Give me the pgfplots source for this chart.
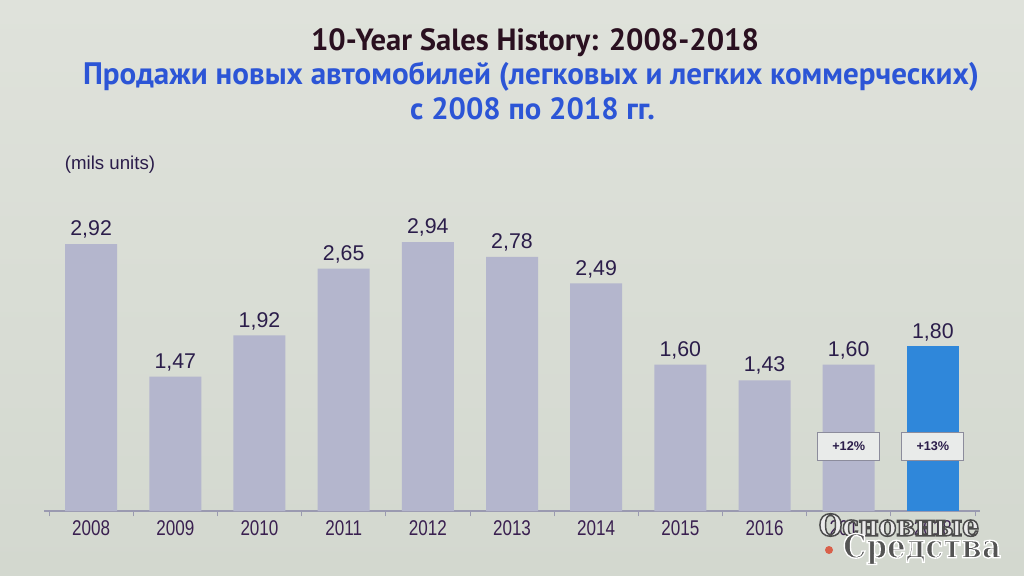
\documentclass[border=0pt]{standalone}
\usepackage{pgfplots}
\pgfplotsset{compat=1.18}
\usepackage{fontspec}
\setmainfont{Liberation Sans}
\newfontfamily\titlefont{PT Sans}
\newfontfamily\narrowfont[FakeStretch=0.8]{Liberation Sans}
\newfontfamily\logofont[FakeStretch=0.9]{DejaVu Serif}

\definecolor{bgtop}{HTML}{DFE2DB}
\definecolor{bgbot}{HTML}{D3D8CF}
\definecolor{titlecol}{HTML}{2A1020}
\definecolor{subcol}{HTML}{2C55D6}
\definecolor{barcol}{HTML}{B4B6CD}
\definecolor{barblue}{HTML}{2F87DA}
\definecolor{labcol}{HTML}{2B1D4A}
\definecolor{tickcol}{HTML}{3A2050}
\definecolor{axcol}{HTML}{9A9AB0}
\definecolor{boxdraw}{HTML}{8C8C9C}
\definecolor{boxfill}{HTML}{E9EBEA}
\definecolor{dotcol}{HTML}{D9604A}

% outlined text for the watermark
\newcommand\outlined[2]{\special{pdf:literal 2 Tr #1 w}#2\special{pdf:literal 0 Tr}}

\begin{document}
\begin{tikzpicture}
\shade[top color=bgtop, bottom color=bgbot] (0,0) rectangle (768pt,431.25pt);

\node[font=\titlefont\bfseries\fontsize{23}{26}\selectfont, text=titlecol] at (401.25pt,399pt) {10-Year Sales History: 2008-2018};
\node[font=\titlefont\bfseries\fontsize{23.3}{26}\selectfont, text=subcol] at (398.25pt,374pt) {Продажи новых автомобилей (легковых и легких коммерческих)};
\node[font=\titlefont\bfseries\fontsize{23}{26}\selectfont, text=subcol] at (399.4pt,349.5pt) {с 2008 по 2018 гг.};
\node[font=\fontsize{14}{16}\selectfont, text=labcol] at (82.5pt,307.5pt) {(mils units)};

\begin{axis}[
    at={(33pt,48pt)}, anchor=south west,
    scale only axis, width=702pt, height=240pt,
    xmin=-0.56, xmax=10.56, ymin=0, ymax=3.5,
    axis x line=bottom, axis y line=none,
    x axis line style={-, draw=axcol, line width=0.8pt},
    ybar, bar width=39pt, clip=false,
    xtick={0,1,2,3,4,5,6,7,8,9,10},
    xticklabels={2008,2009,2010,2011,2012,2013,2014,2015,2016,2017,2018},
    minor xtick={-0.5,0.5,1.5,2.5,3.5,4.5,5.5,6.5,7.5,8.5,9.5,10.5},
    major tick length=0pt, minor tick length=4pt, tick align=outside,
    minor tick style={draw=axcol, line width=0.6pt},
    xticklabel style={font=\narrowfont\fontsize{16}{18}\selectfont, text=tickcol, yshift=-4pt},
    /pgf/number format/assume math mode=true,
    nodes near coords={\pgfmathprintnumber[fixed,fixed zerofill,precision=2,use comma]{\pgfplotspointmeta}},
    every node near coord/.append style={font=\fontsize{16}{18}\selectfont, text=labcol, anchor=south, inner sep=0pt, yshift=4pt},
]
\addplot[fill=barcol, draw=none, bar shift=0pt] coordinates {
(0,2.92) (1,1.47) (2,1.92) (3,2.65) (4,2.94) (5,2.78) (6,2.49) (7,1.60) (8,1.43) (9,1.60)
};
\addplot[fill=barblue, draw=none, bar shift=0pt] coordinates {(10,1.80)};
\node[draw=boxdraw, line width=0.8pt, fill=boxfill, minimum width=46.5pt, minimum height=21pt, inner sep=0pt,
      font=\bfseries\fontsize{9.5}{10}\selectfont, text=labcol] at (axis cs:9,0.71) {+12\%};
\node[draw=boxdraw, line width=0.8pt, fill=boxfill, minimum width=46.5pt, minimum height=21pt, inner sep=0pt,
      font=\bfseries\fontsize{9.5}{10}\selectfont, text=labcol] at (axis cs:10,0.71) {+13\%};
\end{axis}

\node[font=\logofont\bfseries\fontsize{22.5}{23}\selectfont] at (674.25pt,37.5pt)
  {\special{pdf:literal 0.3 0.3 0.3 RG 0.92 0.92 0.92 rg}\outlined{1.1}{Основные}};
\node[font=\logofont\bfseries\fontsize{24.5}{25}\selectfont] at (691.5pt,19.5pt)
  {\special{pdf:literal 1 1 1 RG 0.33 0.33 0.33 rg}\outlined{1.0}{Средства}};
\fill[dotcol] (621.75pt,18.75pt) circle (3pt);
\end{tikzpicture}
\end{document}
